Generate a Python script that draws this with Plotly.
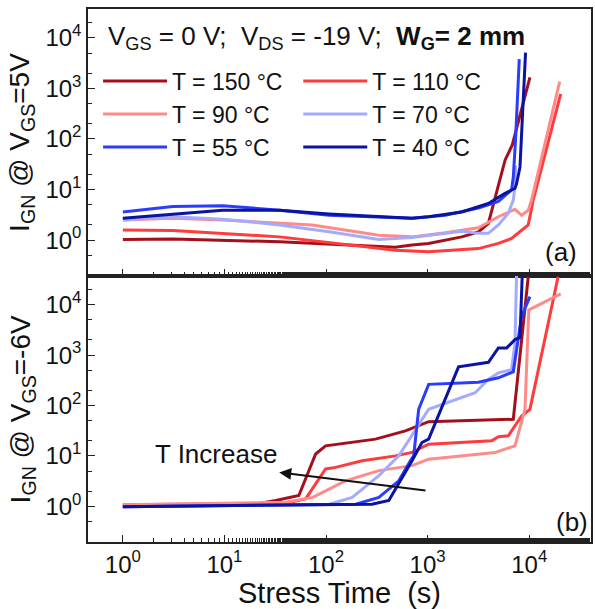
import math
import plotly.graph_objects as go

# ---------------- data ----------------
labels = ["T = 150 °C", "T = 110 °C", "T = 90 °C", "T = 70 °C", "T = 55 °C", "T = 40 °C"]
colors = ["#a3101c", "#ff3b3b", "#ff8a8a", "#a3abff", "#2a3cff", "#0a149e"]
legend_of = ["legend", "legend2", "legend", "legend2", "legend", "legend2"]

# panel (a): I_GN @ V_GS = 5 V
a150_t = [1, 3.1, 35, 480, 700, 1020, 2170, 3160, 3960, 5780, 6810, 10160]
a150_i = [1.03, 1.05, 0.93, 0.72, 0.8, 0.86, 1.16, 1.46, 2.14, 38, 76, 1660]
a110_t = [1, 3.1, 35, 480, 1020, 3160, 4970, 6700, 9780, 10940, 20400]
a110_i = [1.58, 1.55, 1.16, 0.63, 0.59, 0.68, 0.86, 1.08, 2.0, 6.2, 780]
a90_t = [1, 3.1, 9.6, 73, 331, 700, 1490, 3160, 4970, 6220, 7240, 8410, 9780, 10540, 19950]
a90_i = [2.5, 2.7, 2.5, 2.0, 1.25, 1.16, 1.4, 1.75, 2.9, 3.6, 4.06, 3.1, 3.9, 6.2, 1360]
a70_t = [1, 3.1, 9.6, 35, 107, 331, 700, 1020, 2170, 3160, 3960, 4970, 6220, 6970, 7240, 7330]
a70_i = [2.5, 2.9, 2.6, 2.0, 1.46, 1.03, 1.13, 1.25, 1.5, 1.36, 1.36, 2.0, 3.4, 6.2, 11.4, 30]
a55_t = [1, 3.1, 9.6, 35, 107, 700, 1490, 3160, 4970, 6700, 6970, 7330, 7980]
a55_i = [3.6, 4.6, 4.8, 3.9, 3.1, 2.7, 3.1, 4.3, 5.8, 9.8, 17.7, 96, 3800]
a40_t = [1, 9.6, 35, 107, 700, 1020, 2170, 3960, 5780, 7240, 7500, 8110, 9200]
a40_i = [2.7, 3.9, 3.9, 3.3, 2.7, 2.9, 3.6, 5.3, 8.4, 10.6, 13, 28, 5100]

# panel (b): I_GN @ V_GS = -6 V
b150_t = [1, 20, 32, 54, 79, 99, 307, 604, 1023, 6970, 9780]
b150_i = [1.0, 1.1, 1.3, 1.63, 10.9, 15.8, 21.5, 31.4, 47.8, 53.3, 36000]
b110_t = [1, 40, 63, 99, 124, 227, 482, 702, 1023, 4270, 4970, 6220, 8410, 10160, 19230]
b110_i = [1.07, 1.15, 1.4, 5.5, 5.9, 8.0, 10, 11.7, 17, 19.9, 24, 25, 62, 84, 36000]
b90_t = [1, 40, 74, 155, 331, 702, 1023, 4610, 7240, 9080, 9900, 20400]
b90_i = [1.07, 1.2, 1.5, 3.2, 5.1, 6.4, 8.6, 11.7, 15.8, 84, 7900, 16500]
b70_t = [1, 107, 181, 331, 520, 1023, 2937, 3963, 4970, 6700, 7240, 7500]
b70_i = [0.98, 1.1, 1.5, 4.05, 10, 84, 179, 330, 446, 515, 1740, 40000]
b55_t = [1, 196, 331, 520, 676, 729, 816, 1023, 3162, 4970, 6970, 8410, 10160]
b55_i = [0.98, 1.1, 1.5, 3.2, 8, 10, 84, 263, 290, 355, 466, 5900, 14500]
b40_t = [1, 284, 415, 520, 702, 879, 1023, 2015, 3963, 4970, 5990, 7240, 8110, 8540]
b40_i = [0.98, 1.1, 1.3, 2.8, 8, 18.4, 21.5, 585, 720, 1390, 1390, 2030, 2240, 40000]

top_t = [a150_t, a110_t, a90_t, a70_t, a55_t, a40_t]
top_i = [a150_i, a110_i, a90_i, a70_i, a55_i, a40_i]
bot_t = [b150_t, b110_t, b90_t, b70_t, b55_t, b40_t]
bot_i = [b150_i, b110_i, b90_i, b70_i, b55_i, b40_i]

tick_vals = [1, 10, 100, 1000, 10000]
tick_text = ["10<sup>0</sup>", "10<sup>1</sup>", "10<sup>2</sup>", "10<sup>3</sup>", "10<sup>4</sup>"]

# arrow "T Increase" (time s, current)
arrow_tail = (985, 2.04)
arrow_head = (34.6, 4.7)
arrow_text_pos = (8.3, 11.0)

# ---------------- figure ----------------
FONT = "Liberation Sans, Arial, sans-serif"
INK = "#111"
fig = go.Figure()

for k in range(6):
    fig.add_trace(go.Scatter(
        x=top_t[k], y=top_i[k], mode="lines", name=labels[k],
        line=dict(color=colors[k], width=3),
        xaxis="x", yaxis="y", legend=legend_of[k], showlegend=True))
for k in range(6):
    fig.add_trace(go.Scatter(
        x=bot_t[k], y=bot_i[k], mode="lines", name=labels[k],
        line=dict(color=colors[k], width=3),
        xaxis="x2", yaxis="y2", showlegend=False))

axis_common = dict(
    type="log", showline=True, linecolor="#222", linewidth=1.5, mirror=True,
    ticks="inside", ticklen=7, tickwidth=1.3, tickcolor="#222",
    minor=dict(ticks="inside", ticklen=4, tickwidth=1, tickcolor="#222", showgrid=False),
    showgrid=False, zeroline=False,
    tickvals=tick_vals, ticktext=tick_text,
    tickfont=dict(family=FONT, size=24, color=INK),
)
# tick-only axes for the top / right edges of each panel
edge_common = dict(axis_common, showline=False, mirror=False, showticklabels=False)

xr = [-0.343, 4.608]
yr = [-0.71, 4.57]

legend_common = dict(xanchor="left", yanchor="top", bgcolor="rgba(0,0,0,0)",
                     font=dict(family=FONT, size=23, color=INK), itemwidth=64, tracegroupgap=0)

fig.update_layout(
    width=595, height=609,
    margin=dict(l=88, r=2, t=9, b=67),
    plot_bgcolor="white", paper_bgcolor="white",
    font=dict(family=FONT, color=INK),
    xaxis=dict(axis_common, range=xr, domain=[0, 1], anchor="y", showticklabels=False),
    yaxis=dict(axis_common, range=yr, domain=[0.499, 1], anchor="x"),
    xaxis2=dict(axis_common, range=xr, domain=[0, 1], anchor="y2",
                title=dict(text="Stress Time  (s)", font=dict(family=FONT, size=29, color=INK),
                           standoff=0)),
    yaxis2=dict(axis_common, range=yr, domain=[0, 0.499], anchor="x2"),
    xaxis3=dict(edge_common, range=xr, overlaying="x", side="top", anchor="y"),
    xaxis4=dict(edge_common, range=xr, overlaying="x2", side="top", anchor="y2"),
    yaxis3=dict(edge_common, range=yr, overlaying="y", side="right", anchor="x"),
    yaxis4=dict(edge_common, range=yr, overlaying="y2", side="right", anchor="x2"),
    legend=dict(legend_common, x=0.02, y=0.905),
    legend2=dict(legend_common, x=0.418, y=0.905),
)

ann = []
ann.append(dict(text="V<sub>GS</sub> = 0 V;  V<sub>DS</sub> = -19 V;  <b>W<sub>G</sub>= 2 mm</b>",
                xref="paper", yref="paper", x=0.4535, y=0.9456, showarrow=False,
                xanchor="center", yanchor="middle",
                font=dict(family=FONT, size=26, color=INK)))
ann.append(dict(text="(a)", xref="paper", yref="paper", x=0.94, y=0.545, showarrow=False,
                xanchor="center", yanchor="middle",
                font=dict(family=FONT, size=26, color=INK)))
ann.append(dict(text="(b)", xref="paper", yref="paper", x=0.962, y=0.037, showarrow=False,
                xanchor="center", yanchor="middle",
                font=dict(family=FONT, size=26, color=INK)))
ann.append(dict(text="I<sub>GN</sub> @ V<sub>GS</sub>=5V", xref="paper", yref="paper",
                x=-0.131, y=0.749, textangle=-90, showarrow=False,
                xanchor="center", yanchor="middle",
                font=dict(family=FONT, size=28, color=INK)))
ann.append(dict(text="I<sub>GN</sub> @ V<sub>GS</sub>=-6V", xref="paper", yref="paper",
                x=-0.131, y=0.249, textangle=-90, showarrow=False,
                xanchor="center", yanchor="middle",
                font=dict(family=FONT, size=28, color=INK)))
ann.append(dict(text="", xref="x2", yref="y2", axref="x2", ayref="y2",
                x=math.log10(arrow_head[0]), y=math.log10(arrow_head[1]),
                ax=math.log10(arrow_tail[0]), ay=math.log10(arrow_tail[1]),
                showarrow=True, arrowhead=2, arrowsize=1.2, arrowwidth=2, arrowcolor=INK))
ann.append(dict(text="T Increase", xref="x2", yref="y2",
                x=math.log10(arrow_text_pos[0]), y=math.log10(arrow_text_pos[1]),
                showarrow=False, xanchor="center", yanchor="middle",
                font=dict(family=FONT, size=26, color=INK)))
fig.update_layout(annotations=ann)

fig.write_html("out.html")
